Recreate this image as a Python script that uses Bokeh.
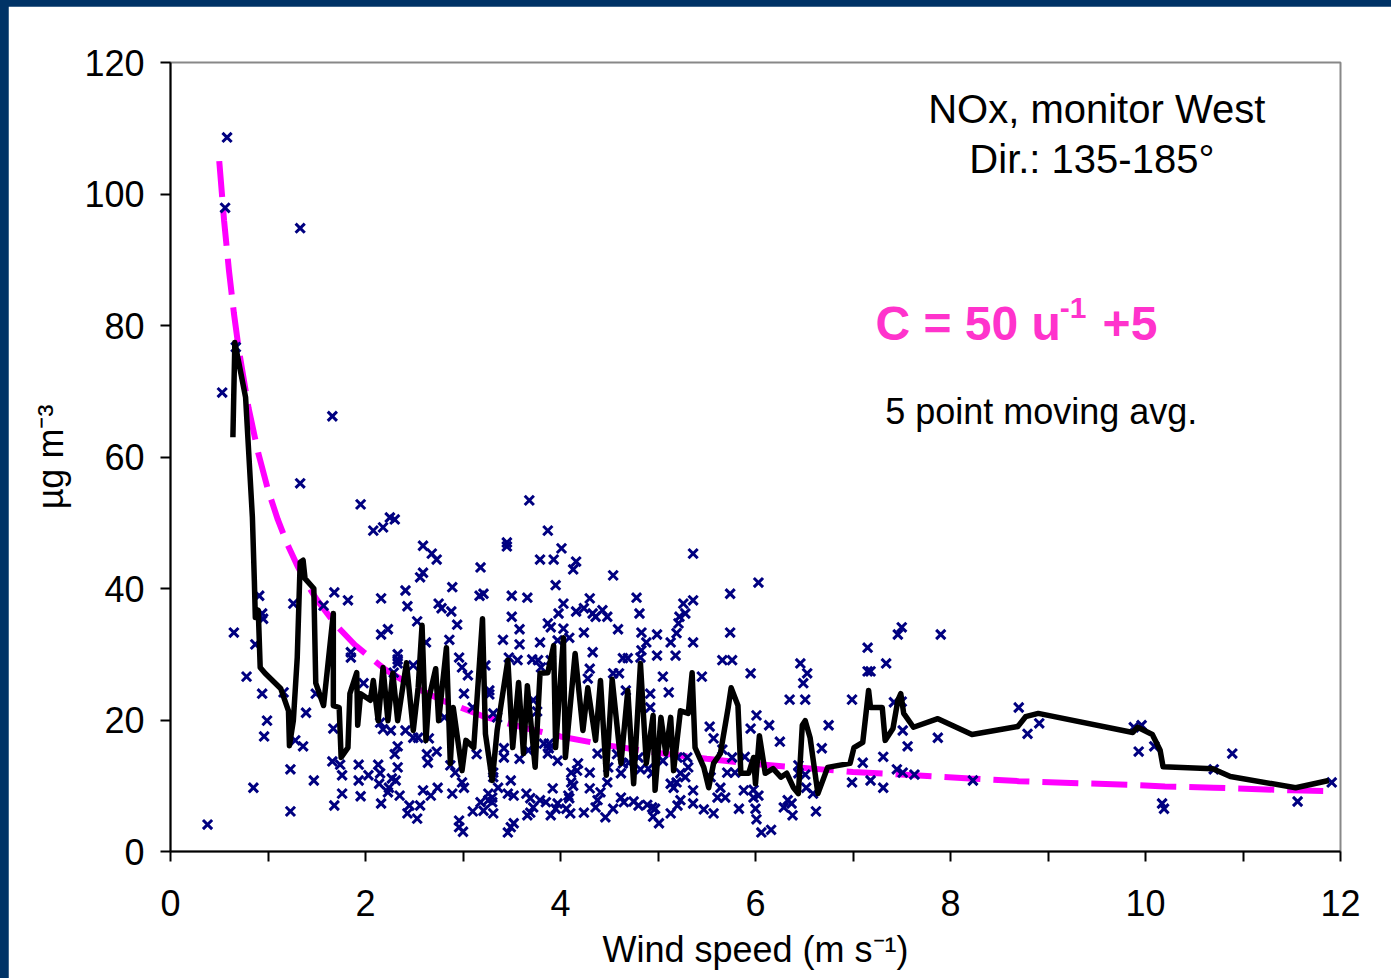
from bokeh.plotting import figure
from bokeh.models import Range1d, FixedTicker, Label
from bokeh.embed import file_html
from bokeh.resources import INLINE

# ---------------- data ----------------
# scatter: wind speed (m/s) and NOx concentration (ug/m3)
wind_u = [
    0.38, 0.58, 0.56, 0.53, 0.67, 0.65, 0.78, 0.85, 0.87, 0.91,
    0.94, 0.95, 0.94, 0.96, 0.99, 1.16, 1.23, 1.23, 1.26, 1.28,
    1.33, 1.33, 1.36, 1.39, 1.47, 1.49, 1.57, 1.66, 1.67, 1.66,
    1.68, 1.68, 1.74, 1.76, 1.76, 1.82, 1.85, 1.85, 1.93, 1.93,
    1.95, 1.95, 1.98, 2.03, 2.08, 2.13, 2.15, 2.15, 2.14, 2.16,
    2.16, 2.16, 2.18, 2.18, 2.23, 2.23, 2.24, 2.25, 2.26, 2.27,
    2.29, 2.30, 2.30, 2.31, 2.33, 2.33, 2.33, 2.33, 2.33, 2.35,
    2.41, 2.41, 2.43, 2.43, 2.45, 2.49, 2.49, 2.53, 2.53, 2.54,
    2.56, 2.59, 2.56, 2.59, 2.59, 2.62, 2.63, 2.64, 2.65, 2.67,
    2.68, 2.73, 2.73, 2.74, 2.75, 2.78, 2.81, 2.86, 2.87, 2.88,
    2.89, 2.89, 2.92, 2.94, 2.96, 2.96, 2.96, 2.99, 2.99, 3.00,
    3.01, 3.01, 3.05, 3.10, 3.10, 3.14, 3.17, 3.18, 3.18, 3.21,
    3.21, 3.23, 3.26, 3.26, 3.27, 3.27, 3.30, 3.30, 3.31, 3.31,
    3.31, 3.31, 3.35, 3.36, 3.41, 3.42, 3.42, 3.45, 3.45, 3.46,
    3.46, 3.47, 3.49, 3.49, 3.50, 3.50, 3.52, 3.52, 3.56, 3.58,
    3.58, 3.58, 3.65, 3.66, 3.66, 3.67, 3.68, 3.69, 3.69, 3.71,
    3.72, 3.72, 3.76, 3.77, 3.79, 3.79, 3.79, 3.80, 3.83, 3.85,
    3.87, 3.87, 3.87, 3.88, 3.88, 3.90, 3.90, 3.90, 3.92, 3.93,
    3.95, 3.95, 3.97, 3.97, 3.97, 3.98, 4.01, 4.03, 4.03, 4.06,
    4.08, 4.09, 4.09, 4.10, 4.11, 4.11, 4.13, 4.13, 4.16, 4.16,
    4.17, 4.18, 4.24, 4.24, 4.24, 4.28, 4.30, 4.30, 4.30, 4.30,
    4.33, 4.33, 4.36, 4.36, 4.38, 4.38, 4.41, 4.43, 4.46, 4.48,
    4.48, 4.49, 4.54, 4.54, 4.54, 4.58, 4.59, 4.60, 4.62, 4.62,
    4.64, 4.64, 4.65, 4.67, 4.69, 4.70, 4.75, 4.78, 4.80, 4.80,
    4.81, 4.82, 4.82, 4.83, 4.83, 4.88, 4.89, 4.90, 4.92, 4.92,
    4.94, 4.94, 4.95, 4.97, 4.99, 4.99, 5.01, 5.05, 5.05, 5.11,
    5.13, 5.13, 5.13, 5.16, 5.18, 5.19, 5.19, 5.20, 5.20, 5.21,
    5.22, 5.23, 5.23, 5.26, 5.28, 5.28, 5.30, 5.31, 5.36, 5.36,
    5.36, 5.36, 5.36, 5.45, 5.47, 5.53, 5.54, 5.57, 5.57, 5.61,
    5.64, 5.66, 5.66, 5.69, 5.71, 5.74, 5.74, 5.76, 5.76, 5.79,
    5.83, 5.88, 5.89, 5.95, 5.95, 5.98, 5.98, 6.00, 6.01, 6.01,
    6.03, 6.03, 6.06, 6.14, 6.16, 6.25, 6.29, 6.33, 6.35, 6.37,
    6.38, 6.44, 6.44, 6.46, 6.49, 6.51, 6.51, 6.52, 6.53, 6.59,
    6.62, 6.68, 6.75, 6.99, 6.99, 7.10, 7.15, 7.15, 7.18, 7.18,
    7.31, 7.31, 7.34, 7.42, 7.45, 7.46, 7.50, 7.50, 7.51, 7.51,
    7.56, 7.63, 7.87, 7.90, 8.23, 8.70, 8.79, 8.91, 9.88, 9.96,
    9.93, 10.09, 10.17, 10.19, 10.70, 10.89, 11.56, 11.91,
]
nox_c = [
    4.1, 108.6, 97.9, 69.8, 76.7, 33.3, 26.6, 9.7, 31.5, 38.9,
    36.2, 35.4, 24.0, 17.5, 19.9, 24.2, 12.5, 6.1, 37.7, 16.9,
    94.8, 56.0, 16.0, 21.1, 10.8, 24.0, 37.4, 66.2, 18.7, 13.7,
    39.4, 7.0, 13.2, 11.6, 8.8, 38.2, 30.3, 29.5, 13.2, 10.8,
    52.8, 8.4, 25.6, 11.6, 48.8, 13.2, 19.6, 11.9, 10.3, 38.5,
    33.0, 7.3, 49.3, 18.6, 33.8, 9.0, 9.7, 50.8, 18.4, 11.1,
    27.2, 50.5, 14.8, 10.8, 30.0, 29.2, 28.6, 16.0, 12.8, 8.5,
    39.7, 18.4, 37.3, 5.8, 7.0, 28.3, 17.3, 35.0, 5.0, 17.3,
    41.7, 42.4, 7.0, 46.5, 9.3, 31.8, 14.8, 13.5, 17.2, 8.5,
    45.3, 44.4, 15.2, 9.7, 37.7, 37.0, 20.4, 32.2, 13.1, 36.5,
    40.2, 8.8, 12.0, 34.5, 29.5, 4.7, 3.7, 28.0, 10.5, 3.0,
    24.0, 9.7, 26.8, 21.9, 6.1, 14.8, 38.9, 43.2, 7.5, 39.2,
    6.2, 28.3, 8.8, 7.8, 24.5, 23.9, 8.2, 7.5, 21.0, 12.0,
    11.3, 5.8, 20.4, 9.7, 32.2, 15.7, 14.3, 47.0, 46.4, 8.8,
    2.9, 29.5, 10.8, 3.7, 38.9, 35.7, 8.5, 4.3, 29.1, 33.8,
    31.5, 14.1, 8.8, 38.6, 5.5, 15.4, 53.4, 8.1, 5.9, 29.2,
    23.0, 6.7, 21.3, 29.1, 44.4, 31.8, 7.8, 28.0, 16.4, 7.5,
    48.8, 34.7, 14.9, 16.4, 15.7, 34.1, 29.1, 5.5, 9.6, 44.4,
    40.5, 6.5, 32.1, 13.8, 7.3, 36.2, 46.1, 37.7, 33.9, 6.5,
    8.5, 32.5, 8.1, 5.8, 12.0, 10.5, 42.9, 10.0, 44.1, 36.5,
    12.3, 13.4, 37.0, 33.3, 5.9, 26.3, 38.5, 27.8, 12.0, 9.6,
    36.2, 30.3, 35.7, 6.7, 14.9, 7.8, 9.0, 36.7, 5.2, 35.7,
    10.5, 12.8, 42.0, 27.1, 6.5, 14.8, 33.8, 27.1, 11.9, 8.2,
    13.4, 29.4, 7.5, 24.5, 29.4, 13.5, 7.6, 38.6, 14.3, 7.0,
    36.2, 29.5, 12.5, 33.3, 30.6, 31.8, 7.1, 12.6, 24.0, 21.9,
    11.9, 6.7, 5.3, 6.5, 33.0, 29.8, 4.3, 26.6, 13.8, 24.2,
    31.8, 10.3, 5.8, 9.7, 29.8, 33.2, 10.5, 14.3, 7.0, 34.7,
    35.7, 11.9, 7.8, 37.7, 36.2, 11.3, 14.3, 12.8, 45.3, 38.2,
    31.8, 9.3, 7.3, 26.6, 6.4, 19.0, 11.3, 17.2, 5.8, 8.2,
    9.7, 29.1, 15.5, 8.2, 12.0, 39.2, 33.3, 29.1, 14.3, 12.0,
    6.5, 9.3, 14.4, 27.1, 18.7, 9.4, 8.2, 6.5, 20.7, 4.9,
    40.9, 8.5, 2.9, 19.2, 3.3, 16.7, 6.7, 7.8, 23.1, 7.3,
    5.5, 13.1, 11.9, 28.6, 25.6, 23.1, 11.7, 9.7, 27.1, 8.8,
    6.1, 15.7, 19.2, 23.1, 10.5, 13.5, 31.0, 27.4, 27.4, 10.8,
    14.4, 9.7, 28.6, 22.7, 12.5, 33.0, 34.1, 22.8, 18.4, 12.0,
    16.0, 11.7, 17.3, 33.0, 10.8, 21.9, 17.9, 19.5, 18.9, 19.2,
    15.2, 16.0, 7.3, 6.5, 12.5, 14.9, 7.6, 10.5,
]

# 5 point moving average (vertices)
avg_u = [
    0.64, 0.66, 0.77, 0.84, 0.86, 0.87, 0.90, 0.92, 0.97, 1.13,
    1.21, 1.22, 1.26, 1.30, 1.33, 1.36, 1.38, 1.47, 1.49, 1.57,
    1.67, 1.67, 1.73, 1.75, 1.82, 1.84, 1.91, 1.92, 1.95, 2.05,
    2.08, 2.13, 2.18, 2.23, 2.28, 2.33, 2.42, 2.49, 2.54, 2.58,
    2.62, 2.65, 2.72, 2.75, 2.83, 2.87, 2.90, 2.99, 3.03, 3.11,
    3.20, 3.23, 3.30, 3.35, 3.46, 3.51, 3.57, 3.62, 3.66, 3.74,
    3.79, 3.87, 3.93, 3.95, 4.03, 4.05, 4.15, 4.23, 4.28, 4.36,
    4.41, 4.47, 4.53, 4.62, 4.69, 4.75, 4.82, 4.88, 4.95, 4.97,
    5.03, 5.08, 5.13, 5.16, 5.23, 5.31, 5.35, 5.38, 5.47, 5.52,
    5.57, 5.64, 5.72, 5.75, 5.82, 5.85, 5.93, 5.98, 6.00, 6.04,
    6.10, 6.18, 6.26, 6.32, 6.39, 6.44, 6.48, 6.51, 6.56, 6.64,
    6.74, 6.97, 7.01, 7.10, 7.16, 7.18, 7.30, 7.33, 7.41, 7.46,
    7.49, 7.52, 7.62, 7.87, 8.22, 8.69, 8.77, 8.90, 9.87, 9.92,
    10.07, 10.15, 10.18, 10.69, 10.87, 11.54, 11.88,
]
avg_c = [
    63.0, 77.4, 69.1, 50.8, 41.2, 35.6, 36.7, 28.0, 27.1, 24.8,
    21.4, 16.1, 19.9, 29.5, 44.0, 44.3, 41.5, 40.0, 25.6, 22.2,
    36.2, 22.2, 21.9, 14.3, 15.8, 24.0, 27.2, 19.2, 24.0, 23.0,
    26.0, 19.9, 28.0, 19.9, 27.1, 19.9, 28.7, 18.4, 24.9, 34.4,
    16.9, 23.3, 27.8, 19.9, 31.0, 13.4, 21.9, 12.3, 16.9, 15.8,
    35.4, 17.9, 10.8, 18.4, 29.1, 15.8, 25.7, 14.9, 25.2, 12.8,
    27.1, 27.2, 31.3, 15.8, 32.5, 14.3, 30.1, 18.4, 24.9, 16.9,
    26.0, 11.6, 26.2, 13.4, 24.5, 10.3, 28.6, 13.4, 20.7, 9.3,
    20.4, 14.9, 20.4, 12.3, 21.4, 21.0, 27.2, 15.8, 12.8, 9.7,
    13.4, 14.9, 21.9, 24.9, 22.2, 11.9, 11.9, 14.3, 10.3, 17.6,
    11.9, 12.6, 11.3, 11.9, 9.7, 8.8, 19.2, 19.9, 17.3, 8.8,
    12.8, 13.4, 15.8, 16.6, 24.5, 21.9, 21.9, 16.9, 18.7, 23.0,
    24.0, 21.0, 18.9, 20.2, 17.8, 19.0, 20.5, 21.0, 18.1, 18.9,
    17.8, 15.4, 12.9, 12.6, 11.4, 9.7, 10.8,
]

# fitted curve C = 50/u + 5
fit_u = [0.5, 0.55, 0.6, 0.65, 0.7, 0.8, 0.9, 1.0, 1.1, 1.2, 1.3, 1.4, 1.5, 1.7,
         1.9, 2.2, 2.5, 2.8, 3.2, 3.6, 4.0, 4.5, 5.0, 5.5, 6.0, 6.5, 7.0, 7.5,
         8.2, 8.7, 9.9, 10.2, 10.7, 11.5, 11.9]
fit_c = [105.0, 95.9, 88.3, 81.9, 76.4, 67.5, 60.6, 55.0, 50.5, 46.7, 43.5, 40.7,
         38.3, 34.4, 31.3, 27.7, 25.0, 22.9, 20.6, 18.9, 17.5, 16.1, 15.0, 14.1,
         13.3, 12.7, 12.1, 11.7, 11.1, 10.7, 10.1, 9.9, 9.7, 9.3, 9.2]

x_ticks = [0, 2, 4, 6, 8, 10, 12]
x_minor = [1, 3, 5, 7, 9, 11]
y_ticks = [0, 20, 40, 60, 80, 100, 120]

FONT = "Liberation Sans"
MAGENTA_TXT = "#FF33CC"

# ---------------- figure ----------------
p = figure(width=1383, height=972,
           x_range=Range1d(0, 12), y_range=Range1d(0, 120),
           output_backend="svg", toolbar_location=None,
           min_border_left=162, min_border_right=51,
           min_border_top=56, min_border_bottom=127)
p.background_fill_color = "white"
p.border_fill_color = "white"
p.outline_line_color = "#888888"
p.outline_line_width = 2
p.xgrid.grid_line_color = None
p.ygrid.grid_line_color = None

p.line(fit_u, fit_c, line_color="#FF00FF", line_width=6, line_dash="36 13")
p.scatter(wind_u, nox_c, marker="x", size=13, line_color="#000080", line_width=3)
p.line(avg_u, avg_c, line_color="black", line_width=5.5, line_join="round")

xa = p.xaxis[0]
xa.ticker = FixedTicker(ticks=x_ticks, minor_ticks=x_minor)
xa.axis_label = "Wind speed (m s\u207b\u00b9)"
ya = p.yaxis[0]
ya.ticker = FixedTicker(ticks=y_ticks, minor_ticks=[])
ya.axis_label = "\u00b5g m\u207b\u00b3"

for ax in (xa, ya):
    ax.axis_line_color = "black"
    ax.axis_line_width = 2
    ax.major_tick_line_color = "black"
    ax.major_tick_line_width = 2
    ax.major_tick_in = 0
    ax.major_tick_out = 10
    ax.minor_tick_line_color = "black"
    ax.minor_tick_line_width = 2
    ax.minor_tick_in = 0
    ax.minor_tick_out = 10
    ax.major_label_text_font = FONT
    ax.major_label_text_font_size = "36px"
    ax.major_label_text_color = "black"
    ax.axis_label_text_font = FONT
    ax.axis_label_text_font_size = "36px"
    ax.axis_label_text_font_style = "normal"
    ax.axis_label_text_color = "black"

xa.major_label_standoff = 28
xa.axis_label_standoff = 10
ya.major_label_standoff = 16
ya.axis_label_standoff = 10

# ---------------- annotations ----------------
p.add_layout(Label(x=9.50, y=113.0, text="NOx, monitor West", text_align="center",
                   text_baseline="alphabetic", text_font=FONT, text_font_size="40px",
                   text_color="black"))
p.add_layout(Label(x=9.45, y=105.3, text="Dir.: 135-185\u00b0", text_align="center",
                   text_baseline="alphabetic", text_font=FONT, text_font_size="40px",
                   text_color="black"))
p.add_layout(Label(x=7.23, y=80.3, text="C = 50 u", text_align="left",
                   text_baseline="alphabetic", text_font=FONT, text_font_size="48px",
                   text_font_style="bold", text_color=MAGENTA_TXT))
p.add_layout(Label(x=9.12, y=82.6, text="-1", text_align="left",
                   text_baseline="alphabetic", text_font=FONT, text_font_size="30px",
                   text_font_style="bold", text_color=MAGENTA_TXT))
p.add_layout(Label(x=9.56, y=80.3, text="+5", text_align="left",
                   text_baseline="alphabetic", text_font=FONT, text_font_size="48px",
                   text_font_style="bold", text_color=MAGENTA_TXT))
p.add_layout(Label(x=7.33, y=66.9, text="5 point moving avg.", text_align="left",
                   text_baseline="alphabetic", text_font=FONT, text_font_size="36px",
                   text_color="black"))

html = file_html(p, INLINE, title="NOx monitor West")
html = html.replace(
    "</head>",
    "<style>html, body { background: #003366 !important; margin: 0 !important; }"
    " body { padding: 6px 0 0 8px !important; }</style></head>", 1)
open("out.html", "w").write(html)
